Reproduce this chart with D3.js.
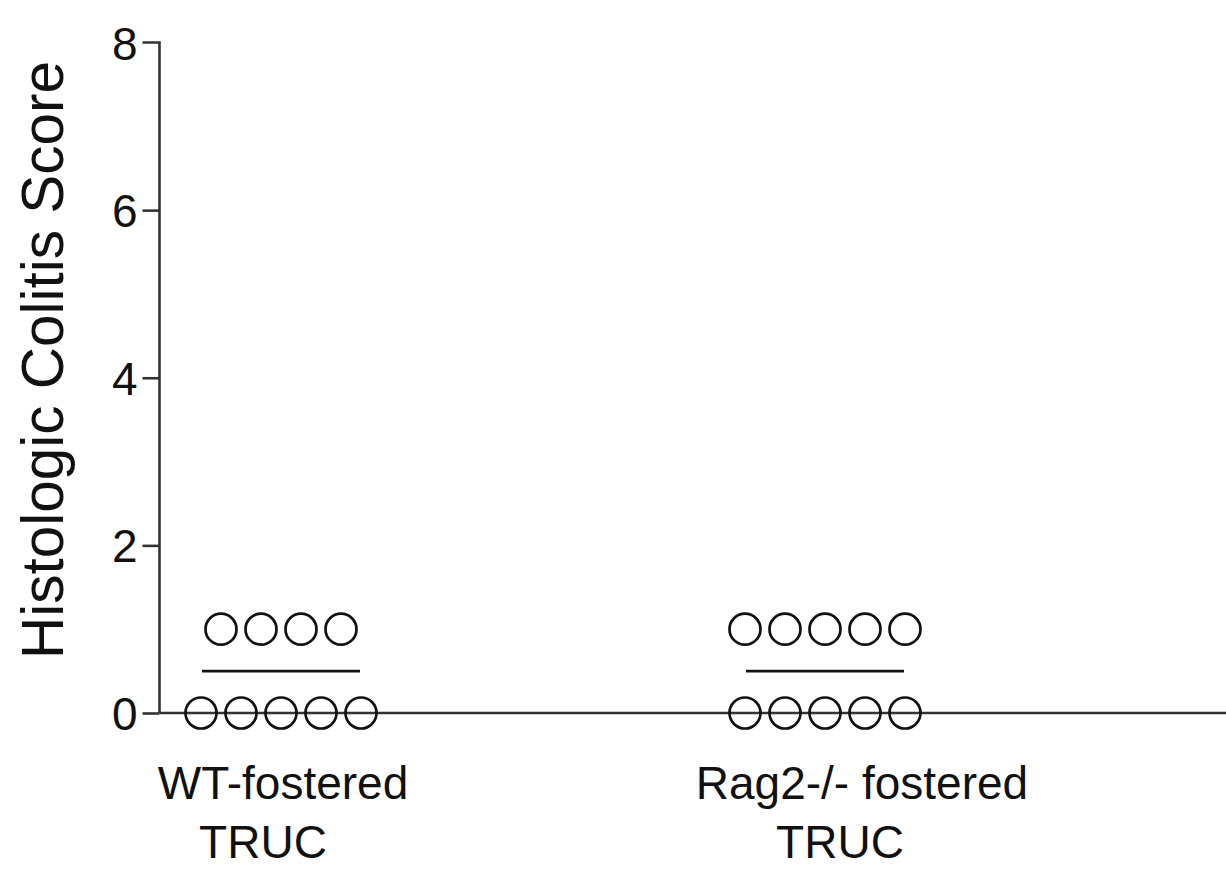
<!DOCTYPE html>
<html>
<head>
<meta charset="utf-8">
<script src="https://cdn.jsdelivr.net/npm/d3@7"></script>
<style>
  html, body { margin: 0; padding: 0; background: #fff; }
  svg text { font-family: Arial, "Liberation Sans", sans-serif; fill: #111; }
</style>
</head>
<body>
<svg id="chart" width="1226" height="874"></svg>
<script>
// Group names (two-line category labels)
const groups = ["WT-fostered TRUC", "Rag2-/- fostered TRUC"];
const labelLines = [["WT-fostered", "TRUC"], ["Rag2-/- fostered", "TRUC"]];
// Individual histologic colitis scores per group
const wtScores = [1, 1, 1, 1, 0, 0, 0, 0, 0];
const ragScores = [1, 1, 1, 1, 1, 0, 0, 0, 0, 0];
// Horizontal line per group (central value)
const centerLines = [0.5, 0.5];
// Y axis ticks
const yTicks = [0, 2, 4, 6, 8];
const yTitle = "Histologic Colitis Score";

const svg = d3.select("#chart");

const y = d3.scaleLinear().domain([0, 8]).range([713, 42.5]);
const x = d3.scaleLinear().domain([0, 1]).range([281, 825]);
const axisX0 = 159.5;

const dotSpacing = 40;   // horizontal spacing for tied values
const dotR = 15.5;

// Y axis
const yAxis = d3.axisLeft(y).tickValues(yTicks).tickSize(17).tickPadding(5).tickFormat(d3.format("d"));
const gy = svg.append("g").attr("transform", `translate(${axisX0},0)`).call(yAxis);
gy.select(".domain").attr("d", `M-17,${y(8)}H0V${y(0)}`).attr("stroke", "#333").attr("stroke-width", 2.6).attr("fill", "none");
gy.selectAll(".tick line").attr("stroke", "#333").attr("stroke-width", 2.6);
gy.selectAll(".tick text").attr("font-size", 46).attr("dy", "0.36em").style("font-family", "Arial, 'Liberation Sans', sans-serif").attr("fill", "#111");
gy.select(".tick:last-of-type line").remove();

// X axis baseline (runs to the right edge)
svg.append("line")
  .attr("x1", axisX0).attr("x2", 1226)
  .attr("y1", y(0)).attr("y2", y(0))
  .attr("stroke", "#333").attr("stroke-width", 2.6);

// Y title
svg.append("text")
  .attr("transform", `translate(63,360) rotate(-90)`)
  .attr("text-anchor", "middle")
  .attr("font-size", 58.5)
  .text(yTitle);

// Spread tied values side by side around the group centre
function layout(scores, gi) {
  const byVal = d3.group(scores, v => v);
  const pts = [];
  for (const [v, arr] of byVal) {
    const n = arr.length;
    arr.forEach((_, i) => {
      pts.push({ v, x: x(gi) + (i - (n - 1) / 2) * dotSpacing });
    });
  }
  return pts;
}

const allScores = [wtScores, ragScores];
allScores.forEach((scores, gi) => {
  const g = svg.append("g");
  // central line
  g.append("line")
    .attr("x1", x(gi) - 79).attr("x2", x(gi) + 79)
    .attr("y1", y(centerLines[gi])).attr("y2", y(centerLines[gi]))
    .attr("stroke", "#111").attr("stroke-width", 2.6);
  // dots
  g.selectAll("circle")
    .data(layout(scores, gi))
    .join("circle")
    .attr("cx", d => d.x)
    .attr("cy", d => y(d.v))
    .attr("r", dotR)
    .attr("fill", "none")
    .attr("stroke", "#111")
    .attr("stroke-width", 2.7);
});

// Category labels
const labelOffsets = [[2, -18], [37, 15]];
labelLines.forEach((lines, gi) => {
  lines.forEach((t, li) => {
    svg.append("text")
      .attr("x", x(gi) + labelOffsets[gi][li])
      .attr("y", 799 + li * 59)
      .attr("text-anchor", "middle")
      .attr("font-size", 46)
      .text(t);
  });
});
</script>
</body>
</html>
